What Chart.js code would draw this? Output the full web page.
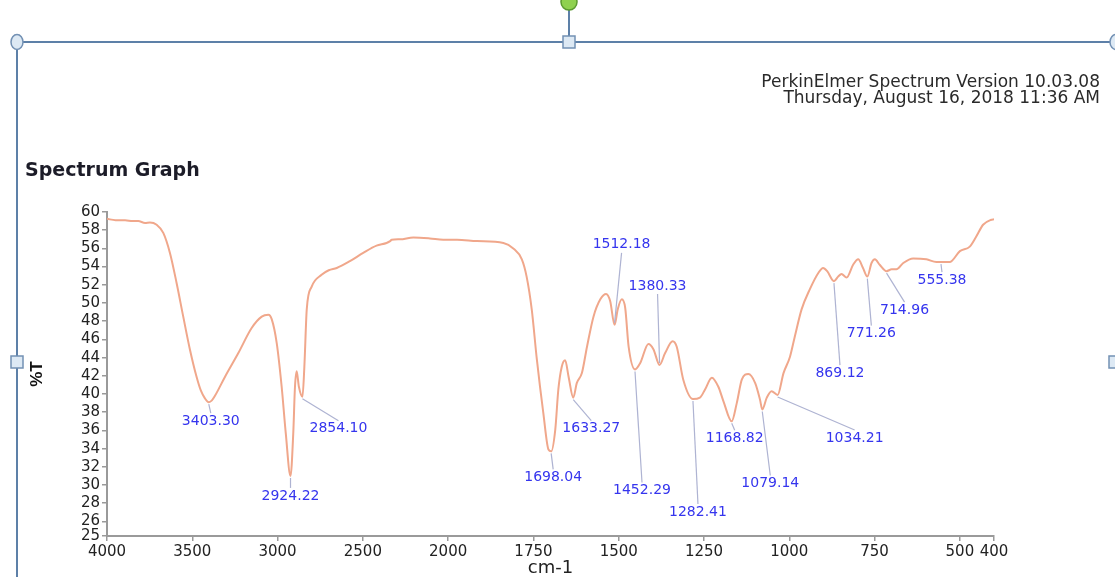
<!DOCTYPE html>
<html>
<head>
<meta charset="utf-8">
<script src="https://cdn.jsdelivr.net/npm/chart.js@4.4.1/dist/chart.umd.min.js"></script>
<style>
  html, body { margin: 0; padding: 0; background: #fff; }
  #wrap { position: relative; width: 1115px; height: 577px; overflow: hidden; }
  #myChart { position: absolute; left: 0; top: 0; }
  .header {
    position: absolute; right: 15px; top: 73px;
    font-family: "DejaVu Sans", sans-serif; font-size: 17px; line-height: 16px;
    color: #2a2a2a; text-align: right; white-space: nowrap;
  }
  .title {
    position: absolute; left: 25px; top: 160px;
    font-family: "DejaVu Sans", sans-serif; font-weight: bold; font-size: 19px; line-height: 19px;
    color: #1c1c28; white-space: nowrap;
  }
</style>
</head>
<body>
<div id="wrap">
  <canvas id="myChart" width="1115" height="577"></canvas>
  <div class="header">PerkinElmer Spectrum Version 10.03.08<br>Thursday, August 16, 2018 11:36 AM</div>
  <div class="title">Spectrum Graph</div>
</div>
<script>
// spectrum (cm-1 and %T)
const wavenumbers = [
  4000, 3950, 3894, 3850, 3817, 3777, 3748, 3709, 3670, 3631, 3592, 3553, 3514, 3475, 3450,
  3425, 3403.30, 3385, 3367, 3308, 3230, 3152, 3093, 3054, 3034, 3005, 2976, 2952, 2924.22, 2908, 2898,
  2888, 2875, 2854.10, 2843, 2829, 2800, 2742, 2700, 2653, 2576, 2498, 2420, 2361, 2340, 2331,
  2282, 2204, 2107, 2029, 1974, 1916, 1838, 1809, 1784, 1770, 1755, 1740, 1721, 1706, 1698.04,
  1686, 1677, 1667, 1657, 1647, 1633.27, 1623, 1608, 1593, 1574, 1554, 1537, 1525, 1512.18,
  1503, 1491, 1481, 1471, 1452.29, 1437, 1413, 1398, 1380.33, 1364, 1342, 1330, 1311, 1282.41,
  1262, 1247, 1227, 1208, 1193, 1168.82, 1154, 1139, 1120, 1100, 1086, 1079.14, 1066, 1052,
  1034.21, 1017, 998, 984, 964, 940, 915, 901, 889, 869.12, 857, 847, 832, 813, 798, 784,
  771.26, 759, 749, 735, 714.96, 700, 686, 666, 637, 598, 569, 555.38, 530, 500, 471, 452,
  432, 408, 400
];
const transmittance = [
  59.25, 59.1, 59.1, 59.0, 59.0, 58.8, 58.85, 58.6, 57.7, 55.5, 52.2, 48.5, 44.9, 41.9, 40.4,
  39.5, 39.1, 39.3, 39.8, 41.9, 44.5, 47.25, 48.5, 48.7, 48.2, 45.6, 40.8, 35.7, 31.0, 35.7, 40.8,
  42.5, 40.8, 39.7, 43.0, 49.3, 51.8, 53.1, 53.6, 53.85, 54.6, 55.5, 56.3, 56.6, 56.8, 56.95,
  57.0, 57.2, 57.1, 56.95, 56.95, 56.8, 56.6, 56.0, 54.8, 52.9, 49.3, 43.8, 37.9, 33.9, 33.7,
  36.1, 40.5, 43.0, 43.7, 41.9, 39.6, 41.2, 42.3, 45.2, 48.5, 50.4, 51.0, 50.2, 47.6,
  49.3, 50.4, 49.45, 45.2, 42.7, 43.4, 45.5, 44.9, 43.2, 44.5, 45.8, 45.2, 41.6, 39.45,
  39.6, 40.5, 41.8, 40.8, 39.2, 37.0, 39.0, 41.6, 42.2, 41.2, 39.4, 38.3, 39.6, 40.3,
  39.9, 42.3, 44.1, 46.3, 49.3, 51.5, 53.3, 53.85, 53.5, 52.4, 52.9, 53.2, 52.8, 54.2, 54.8, 53.85,
  52.9, 54.4, 54.8, 54.2, 53.5, 53.7, 53.7, 54.4, 54.9, 54.8, 54.5, 54.5, 54.5, 55.7, 56.2, 57.3,
  58.6, 59.15, 59.2
];

// labelled peaks
const peakWavenumbers = [3403.30, 2924.22, 2854.10, 1698.04, 1633.27, 1512.18, 1452.29, 1380.33,
  1282.41, 1168.82, 1079.14, 1034.21, 869.12, 771.26, 714.96, 555.38];
const peakTransmittance = [39.1, 31.0, 39.7, 33.7, 39.6, 47.6, 42.7, 43.2,
  39.45, 37.0, 38.3, 39.9, 52.4, 52.9, 53.5, 54.5];

const xTicks = [4000, 3500, 3000, 2500, 2000, 1750, 1500, 1250, 1000, 750, 500, 400];
const yTicks = [25, 26, 28, 30, 32, 34, 36, 38, 40, 42, 44, 46, 48, 50, 52, 54, 56, 58, 60];

const Y_MIN = 24.4;
const BREAK = 2000; // axis scale doubles below 2000 cm-1

// where each peak label sits, relative to its peak (px)
const labelOffsets = [[2, 19], [0, 20], [36, 32], [2, 26], [18, 31], [7, -80], [7, 121], [-2, -79],
  [5, 113], [3, 17], [8, 74], [77, 43], [6, 92], [4, 57], [18, 39], [1, 18]];

class WavenumberScale extends Chart.LinearScale {
  axisUnits(v) {
    return v >= BREAK ? this.max - v : (this.max - BREAK) + (BREAK - v) * 2;
  }
  getPixelForValue(v) {
    if (v === null || v === undefined) return NaN;
    return this.getPixelForDecimal(this.axisUnits(v) / this.axisUnits(this.min));
  }
  getValueForPixel(p) {
    const u = this.getDecimalForPixel(p) * this.axisUnits(this.min);
    const top = this.max - BREAK;
    return u <= top ? this.max - u : BREAK - (u - top) / 2;
  }
}
WavenumberScale.id = 'wavenumber';
Chart.register(WavenumberScale);

const pageFrame = {
  id: 'pageFrame',
  beforeDraw(chart) {
    const ctx = chart.ctx;
    ctx.save();
    ctx.strokeStyle = '#5d80a8';
    ctx.lineWidth = 2;
    ctx.beginPath();
    ctx.moveTo(17, 42); ctx.lineTo(1115, 42);
    ctx.moveTo(17, 42); ctx.lineTo(17, 577);
    ctx.moveTo(569, 42); ctx.lineTo(569, 6);
    ctx.stroke();

    ctx.lineWidth = 1.5;
    ctx.strokeStyle = '#7391b4';
    ctx.fillStyle = '#dde9f4';
    [[17, 42], [1116, 42]].forEach(([cx, cy]) => {
      ctx.beginPath();
      ctx.ellipse(cx, cy, 6, 7.5, 0, 0, Math.PI * 2);
      ctx.fill(); ctx.stroke();
    });
    [[569, 42], [17, 362], [1115, 362]].forEach(([cx, cy]) => {
      ctx.beginPath();
      ctx.rect(cx - 6, cy - 6, 12, 12);
      ctx.fill(); ctx.stroke();
    });
    ctx.beginPath();
    ctx.arc(569, 2, 8, 0, Math.PI * 2);
    ctx.fillStyle = '#8fd14f';
    ctx.strokeStyle = '#5b9a30';
    ctx.fill(); ctx.stroke();
    ctx.restore();
  }
};

const peakLabels = {
  id: 'peakLabels',
  afterDatasetsDraw(chart) {
    const { ctx, scales: { x, y } } = chart;
    ctx.save();
    ctx.font = '14px "DejaVu Sans"';
    ctx.textAlign = 'center';
    ctx.textBaseline = 'middle';
    peakWavenumbers.forEach((w, i) => {
      const px = x.getPixelForValue(w);
      const py = y.getPixelForValue(peakTransmittance[i]);
      const [dx, dy] = labelOffsets[i];
      const lx = px + dx, ly = py + dy;
      ctx.strokeStyle = '#aeb3d2';
      ctx.lineWidth = 1.2;
      ctx.beginPath();
      ctx.moveTo(px, py + (dy > 0 ? 2 : -2));
      ctx.lineTo(lx, dy > 0 ? ly - 8 : ly + 8);
      ctx.stroke();
      ctx.fillStyle = '#3535ee';
      ctx.fillText(w.toFixed(2), lx, ly);
    });
    ctx.restore();
  }
};

function render_chart() {
  const data = {
    datasets: [{
      data: wavenumbers.map((w, i) => ({ x: w, y: transmittance[i] })),
      borderColor: '#f0a78b',
      borderWidth: 2,
      pointRadius: 0,
      fill: false,
      cubicInterpolationMode: 'monotone',
    }],
  };
  const tickFont = { family: 'DejaVu Sans', size: 15 };
  const config = {
    type: 'line',
    data: data,
    options: {
      responsive: false,
      animation: false,
      layout: { padding: { left: 0, top: 212, right: 121, bottom: 0 } },
      plugins: { legend: { display: false }, tooltip: { enabled: false } },
      scales: {
        x: {
          type: 'wavenumber',
          min: 400,
          max: 4000,
          afterBuildTicks: s => { s.ticks = xTicks.map(v => ({ value: v })); },
          afterFit: s => { s.height = 41; },
          grid: { drawOnChartArea: false, tickLength: 5, color: '#9a9a9a', lineWidth: 1.5 },
          border: { color: '#9a9a9a', width: 2 },
          ticks: {
            autoSkip: false, maxRotation: 0, padding: 2, color: '#222', font: tickFont,
            callback: v => String(v),
          },
          title: {
            display: true, text: 'cm-1', color: '#222',
            font: { family: 'DejaVu Sans', size: 18 }, padding: { top: 0, bottom: -2 },
          },
        },
        y: {
          min: Y_MIN,
          max: 60,
          afterBuildTicks: s => {
            s.ticks = yTicks.map(v => ({ value: v === yTicks[0] ? Y_MIN : v }));
          },
          afterFit: s => { s.width = 107; },
          grid: { drawOnChartArea: false, tickLength: 5, color: '#9a9a9a', lineWidth: 1.5 },
          border: { color: '#9a9a9a', width: 2 },
          ticks: {
            autoSkip: false, padding: 2, color: '#222', font: tickFont,
            callback: v => (v === Y_MIN ? String(yTicks[0]) : String(v)),
          },
          title: {
            display: true, text: '%T', color: '#111',
            font: { family: 'Liberation Sans', size: 17, weight: 'bold' }, padding: { top: 27, bottom: 0 },
          },
        },
      },
    },
    plugins: [pageFrame, peakLabels],
  };
  const myChart = new Chart(document.getElementById('myChart'), config);
}
document.addEventListener('DOMContentLoaded', render_chart);
</script>
</body>
</html>
